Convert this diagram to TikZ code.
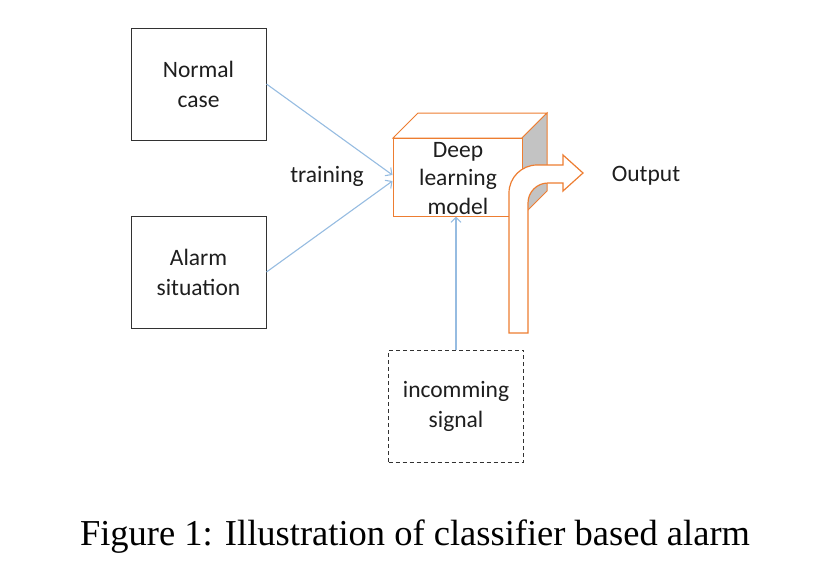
\documentclass[tikz,border=0pt]{standalone}
\usepackage{fontspec}
\setmainfont{Carlito}
\newfontfamily\capfont{Liberation Serif}
\usetikzlibrary{arrows.meta,calc}
\definecolor{offorange}{RGB}{237,125,49}
\definecolor{lineblue}{RGB}{150,188,225}
\definecolor{facegray}{RGB}{195,195,195}
\definecolor{boxline}{RGB}{50,50,50}
\definecolor{textcol}{RGB}{30,30,30}
\tikzset{
  plainbox/.style={draw=boxline,line width=1pt,minimum width=135pt,minimum height=112pt,align=center,font=\fontsize{23.5}{30}\selectfont,inner sep=0pt,text=textcol},
  dashbox/.style={plainbox,dash pattern=on 4pt off 3pt},
  bluearrow/.style={draw=lineblue,line width=1.1pt,-{Straight Barb[length=5pt,width=10pt]}},
  lbl/.style={font=\fontsize{23.5}{28}\selectfont,inner sep=0pt,text=textcol},
}
\begin{document}
\begin{tikzpicture}[x=1pt,y=-1pt]
\useasboundingbox (0,0) rectangle (820,574);
% cube
\fill[white,draw=offorange,line width=1pt] (393,138) -- (418,113) -- (547,113) -- (522,138) -- cycle;
\fill[facegray,draw=offorange,line width=1pt] (522,138) -- (547,113) -- (547,191) -- (522,216) -- cycle;
\node[draw=offorange,fill=white,line width=1pt,minimum width=129pt,minimum height=78pt,inner sep=0pt] (dl) at (457.5,177) {};
\node[align=center,font=\fontsize{23.5}{28.5}\selectfont,inner sep=0pt,text=textcol] (dltext) at (458,178.5) {Deep\\learning\\model};
% bent arrow
\filldraw[fill=white,draw=offorange,line width=1.2pt]
  (509,333) -- (509,193) arc[start angle=180,end angle=270,radius=28] -- (563,165) -- (563,155) -- (583,173) -- (563,191) -- (563,183) -- (548,183)
  arc[start angle=270,end angle=180,radius=20] -- (528,333) -- cycle;
% boxes
\node[plainbox] (nc) at (198.5,84) {Normal\\case};
\node[plainbox] (al) at (198.5,272) {Alarm\\situation};
\node[dashbox] (sig) at (456,406) {incomming\\signal};
% labels
\node[lbl] (tr) at (327,176) {training};
\node[lbl] (out) at (646,176) {Output};
% connectors
\draw[bluearrow] (nc.east) -- ($(dl.west)+(0,-2)$);
\draw[bluearrow] (al.east) -- ($(dl.west)+(0,4)$);
\draw[bluearrow] (sig.north) -- (sig.north |- dl.south);
% caption
\node[font=\capfont\fontsize{36.5}{40}\selectfont,inner sep=0pt] (cap) at (415,537) {Figure 1: Illustration of classifier based alarm};
\end{tikzpicture}
\end{document}
